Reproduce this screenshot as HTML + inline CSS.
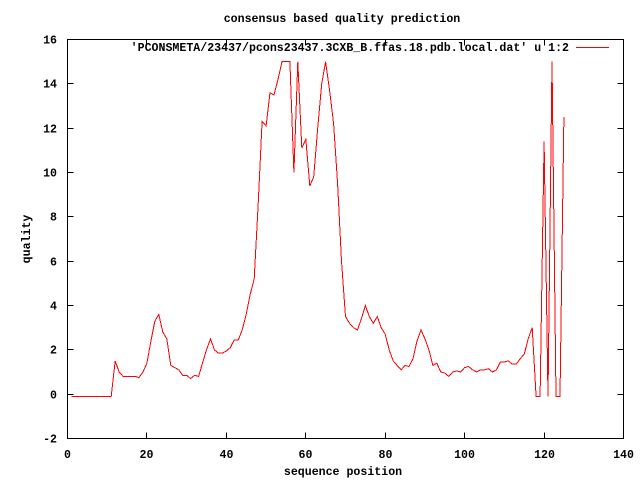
<!DOCTYPE html>
<html><head><meta charset="utf-8"><style>
body{margin:0;background:#fff;}
text{font-family:"Liberation Mono",monospace;font-size:11.6px;font-weight:bold;fill:#000;}
</style></head><body>
<svg id="chart" width="640" height="480" xmlns="http://www.w3.org/2000/svg">
<rect width="640" height="480" fill="#fff"/>
<text x="342" y="22" text-anchor="middle">consensus based quality prediction</text>
<text x="343" y="475" text-anchor="middle">sequence position</text>
<text transform="translate(30,239) rotate(-90)" text-anchor="middle">quality</text>
<g id="axes"></g>
<rect x="67.5" y="39.5" width="556" height="399" fill="none" stroke="#000" stroke-width="1"/>
<text x="569" y="51" text-anchor="end">'PCONSMETA/23437/pcons23437.3CXB_B.ffas.18.pdb.local.dat' u 1:2</text>
<line x1="576" y1="47.5" x2="609" y2="47.5" stroke="#f00" stroke-width="1" shape-rendering="crispEdges"/>
<polyline id="series" fill="none" stroke="#f00" stroke-width="1" shape-rendering="crispEdges"/>
</svg>
<script>
const xTicks=[0,20,40,60,80,100,120,140];
const yTicks=[-2,0,2,4,6,8,10,12,14,16];
const positions=[1,2,3,4,5,6,7,8,9,10,11,12,13,14,15,16,17,18,19,20,21,22,23,24,25,26,27,28,29,30,31,32,33,34,35,36,37,38,39,40,41,42,43,44,45,46,47,48,49,50,51,52,53,54,55,56,57,58,59,60,61,62,63,64,65,66,67,68,69,70,71,72,73,74,75,76,77,78,79,80,81,82,83,84,85,86,87,88,89,90,91,92,93,94,95,96,97,98,99,100,101,102,103,104,105,106,107,108,109,110,111,112,113,114,115,116,117,118,119,120,121,122,123,124,125];
const quality=[-0.1,-0.1,-0.1,-0.1,-0.1,-0.1,-0.1,-0.1,-0.1,-0.1,-0.1,1.5,1.0,0.8,0.8,0.8,0.8,0.75,1.0,1.4,2.4,3.3,3.6,2.8,2.5,1.3,1.2,1.1,0.85,0.85,0.7,0.85,0.8,1.4,2.0,2.5,2.0,1.85,1.85,1.95,2.1,2.45,2.45,2.9,3.6,4.5,5.2,8.5,12.3,12.1,13.6,13.5,14.2,15.0,15.0,15.0,10.0,15.0,11.1,11.5,9.4,9.8,12.0,14.0,15.0,13.7,12.2,9.5,6.0,3.5,3.2,3.0,2.9,3.4,4.0,3.5,3.2,3.5,3.0,2.7,2.0,1.5,1.3,1.1,1.3,1.25,1.6,2.4,2.9,2.5,2.0,1.3,1.4,1.0,0.95,0.8,1.0,1.05,1.0,1.2,1.25,1.1,1.0,1.1,1.1,1.15,1.0,1.1,1.45,1.45,1.5,1.35,1.35,1.6,1.8,2.5,3.0,-0.1,-0.1,11.4,-0.1,15.0,-0.1,-0.1,12.5];
const X0=67.5,X1=623.5,Y0=438.5,Y1=39.5;
const xs=v=>X0+(v-0)/(140-0)*(X1-X0);
const ys=v=>Y0-(v+2)/(16+2)*(Y0-Y1);
const NS="http://www.w3.org/2000/svg";
const g=document.getElementById('axes');
function mk(tag,attrs){const e=document.createElementNS(NS,tag);for(const k in attrs)e.setAttribute(k,attrs[k]);g.appendChild(e);return e;}
xTicks.forEach(t=>{
  const x=Math.round(xs(t)-0.5)+0.5;
  const a=mk('line',{x1:x,y1:Y0,x2:x,y2:Y0-6,stroke:'#000'});
  
  
  const b=mk('line',{x1:x,y1:Y1,x2:x,y2:Y1+6,stroke:'#000'});
  
  
  const l=mk('text',{x:x,y:458,'text-anchor':'middle'});
  l.textContent=t;
  
  
});
yTicks.forEach(t=>{
  const y=Math.round(ys(t)-0.5)+0.5;
  const a=mk('line',{x1:X0,y1:y,x2:X0+6,y2:y,stroke:'#000'});
  
  
  const b=mk('line',{x1:X1,y1:y,x2:X1-6,y2:y,stroke:'#000'});
  
  
  const l=mk('text',{x:57,y:y+4,'text-anchor':'end'});
  l.textContent=t;
  
  
});
document.getElementById('series').setAttribute('points',positions.map((p,i)=>xs(p).toFixed(1)+','+ys(quality[i]).toFixed(1)).join(' '));
</script>
</body></html>
